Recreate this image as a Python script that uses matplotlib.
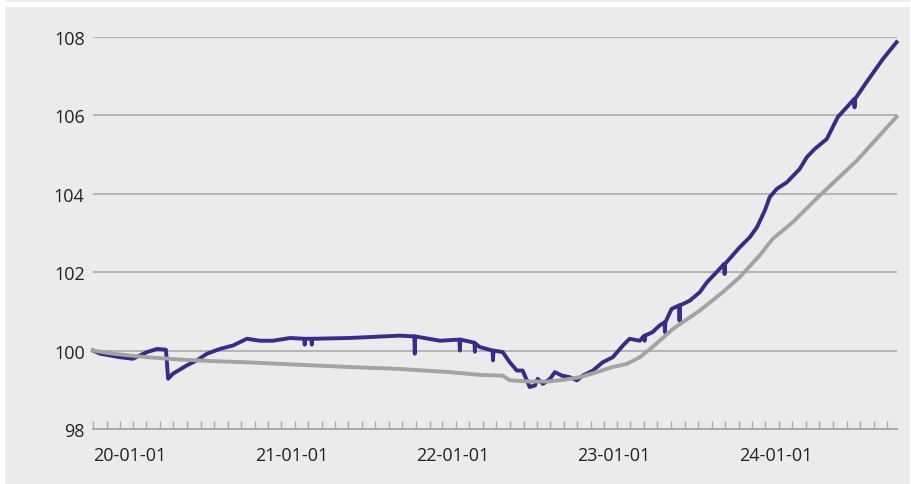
import matplotlib
matplotlib.use("Agg")
import matplotlib.pyplot as plt
import matplotlib.dates as mdates
import pandas as pd
from matplotlib.patches import Rectangle

# purple series (index, with a few one-day dips)
fund_dates = [
    "2020-01-01", "2020-01-17", "2020-03-02", "2020-03-31", "2020-05-02", "2020-05-25",
    "2020-06-05", "2020-06-14", "2020-06-19", "2020-06-30", "2020-07-31", "2020-08-23",
    "2020-09-15", "2020-10-14", "2020-11-13", "2020-12-14", "2021-01-13", "2021-02-11",
    "2021-03-22", "2021-04-23", "2021-04-24", "2021-04-25", "2021-05-09", "2021-05-10",
    "2021-05-11", "2021-08-04", "2021-11-25", "2021-12-28", "2021-12-29", "2021-12-30",
    "2022-02-24", "2022-04-09", "2022-04-10", "2022-04-11", "2022-05-13", "2022-05-14",
    "2022-05-15", "2022-05-25", "2022-06-23", "2022-06-24", "2022-06-25", "2022-07-16",
    "2022-08-01", "2022-08-17", "2022-08-30", "2022-09-15", "2022-09-27", "2022-10-03",
    "2022-10-15", "2022-10-31", "2022-11-11", "2022-11-27", "2022-12-15", "2022-12-31",
    "2023-01-13", "2023-02-05", "2023-02-27", "2023-03-22", "2023-04-14", "2023-04-29",
    "2023-05-22", "2023-06-01", "2023-06-02", "2023-06-03", "2023-06-20", "2023-07-06",
    "2023-07-17", "2023-07-18", "2023-07-19", "2023-08-02", "2023-08-19", "2023-08-20",
    "2023-08-21", "2023-09-12", "2023-10-05", "2023-10-21", "2023-11-12", "2023-11-29",
    "2023-11-30", "2023-12-01", "2024-01-03", "2024-01-26", "2024-02-11", "2024-02-29",
    "2024-03-11", "2024-03-27", "2024-04-19", "2024-05-18", "2024-06-03", "2024-06-21",
    "2024-07-18", "2024-08-12", "2024-09-18", "2024-09-19", "2024-09-20", "2024-10-16",
    "2024-11-22", "2024-12-23",
]
fund_values = [
    100.00, 99.92, 99.83, 99.79, 99.96, 100.04,
    100.03, 100.02, 99.28, 99.41, 99.62, 99.75,
    99.92, 100.04, 100.13, 100.30, 100.25, 100.25,
    100.32, 100.30, 100.15, 100.30, 100.30, 100.15,
    100.30, 100.32, 100.38, 100.36, 99.92, 100.36,
    100.25, 100.28, 100.00, 100.28, 100.20, 99.97,
    100.18, 100.09, 100.00, 99.75, 100.00, 99.96,
    99.70, 99.49, 99.49, 99.07, 99.11, 99.28,
    99.15, 99.28, 99.45, 99.36, 99.32, 99.24,
    99.36, 99.49, 99.70, 99.83, 100.13, 100.30,
    100.25, 100.38, 100.25, 100.38, 100.47, 100.64,
    100.72, 100.47, 100.72, 101.06, 101.15, 100.76,
    101.15, 101.27, 101.49, 101.74, 102.00, 102.21,
    101.95, 102.21, 102.63, 102.89, 103.14, 103.57,
    103.91, 104.12, 104.29, 104.63, 104.93, 105.14,
    105.39, 105.95, 106.41, 106.20, 106.41, 106.84,
    107.43, 107.86,
]

# grey series (benchmark)
bench_dates = [
    "2020-01-01", "2020-02-15", "2020-05-02", "2020-07-16", "2020-09-28", "2020-12-14",
    "2021-02-27", "2021-08-04", "2021-11-25", "2022-03-18", "2022-05-25", "2022-07-16",
    "2022-08-01", "2022-09-15", "2022-10-24", "2022-11-29", "2023-01-06", "2023-02-14",
    "2023-03-22", "2023-04-23", "2023-05-22", "2023-06-20", "2023-08-05", "2023-10-05",
    "2023-11-26", "2024-01-03", "2024-02-17", "2024-03-18", "2024-05-02", "2024-07-02",
    "2024-09-24", "2024-12-23",
]
bench_values = [
    100.00, 99.92, 99.83, 99.77, 99.73, 99.70,
    99.66, 99.58, 99.53, 99.45, 99.38, 99.36,
    99.24, 99.21, 99.21, 99.25, 99.32, 99.45,
    99.58, 99.66, 99.83, 100.09, 100.55, 101.02,
    101.49, 101.87, 102.42, 102.85, 103.27, 103.95,
    104.84, 105.96,
]

W, H = 911, 485
fig = plt.figure(figsize=(W / 100, H / 100), dpi=100, facecolor="white")
fig.patches.append(Rectangle((5 / W, 0), 1 - 6 / W, 477 / H, transform=fig.transFigure,
                             facecolor="#ebebeb", edgecolor="none", zorder=-10))
fig.patches.append(Rectangle((5 / W, 482 / H), 1 - 6 / W, 3 / H, transform=fig.transFigure,
                             facecolor="#ededed", edgecolor="none", zorder=-10))

ax = fig.add_axes([93 / W, 55 / H, 804 / W, 392.3 / H])
ax.set_facecolor("none")

ax.plot(pd.to_datetime(fund_dates), fund_values, color="#3b2a8c", lw=2.8,
        solid_joinstyle="round", zorder=3, clip_on=False)
ax.plot(pd.to_datetime(bench_dates), bench_values, color="#a3a3a3", lw=2.8,
        solid_joinstyle="round", zorder=4, clip_on=False)

ax.set_ylim(98, 108)
ax.set_xlim(pd.Timestamp("2020-01-01"), pd.Timestamp("2024-12-24"))
ax.set_yticks([98, 100, 102, 104, 106, 108])
ax.yaxis.grid(True, color="#ababab", lw=1.2)
ax.set_axisbelow(True)

for s in ["top", "right", "left"]:
    ax.spines[s].set_visible(False)
ax.spines["bottom"].set_color("#ababab")
ax.spines["bottom"].set_linewidth(1.4)

ax.xaxis.set_major_locator(mdates.YearLocator())
ax.xaxis.set_major_formatter(mdates.DateFormatter("%y-%m-%d"))
ax.xaxis.set_minor_locator(mdates.MonthLocator())
ax.tick_params(axis="x", which="both", direction="in", length=6, width=1, color="#ababab")
ax.tick_params(axis="x", which="major", pad=12)
ax.tick_params(axis="y", length=0, pad=6)

for lab in ax.get_xticklabels() + ax.get_yticklabels():
    lab.set_fontfamily(["Open Sans", "DejaVu Sans"])
    lab.set_fontsize(13)
    lab.set_color("#222222")
for lab in ax.get_xticklabels():
    lab.set_ha("left")

fig.savefig("out.png", dpi=100, facecolor=fig.get_facecolor())
